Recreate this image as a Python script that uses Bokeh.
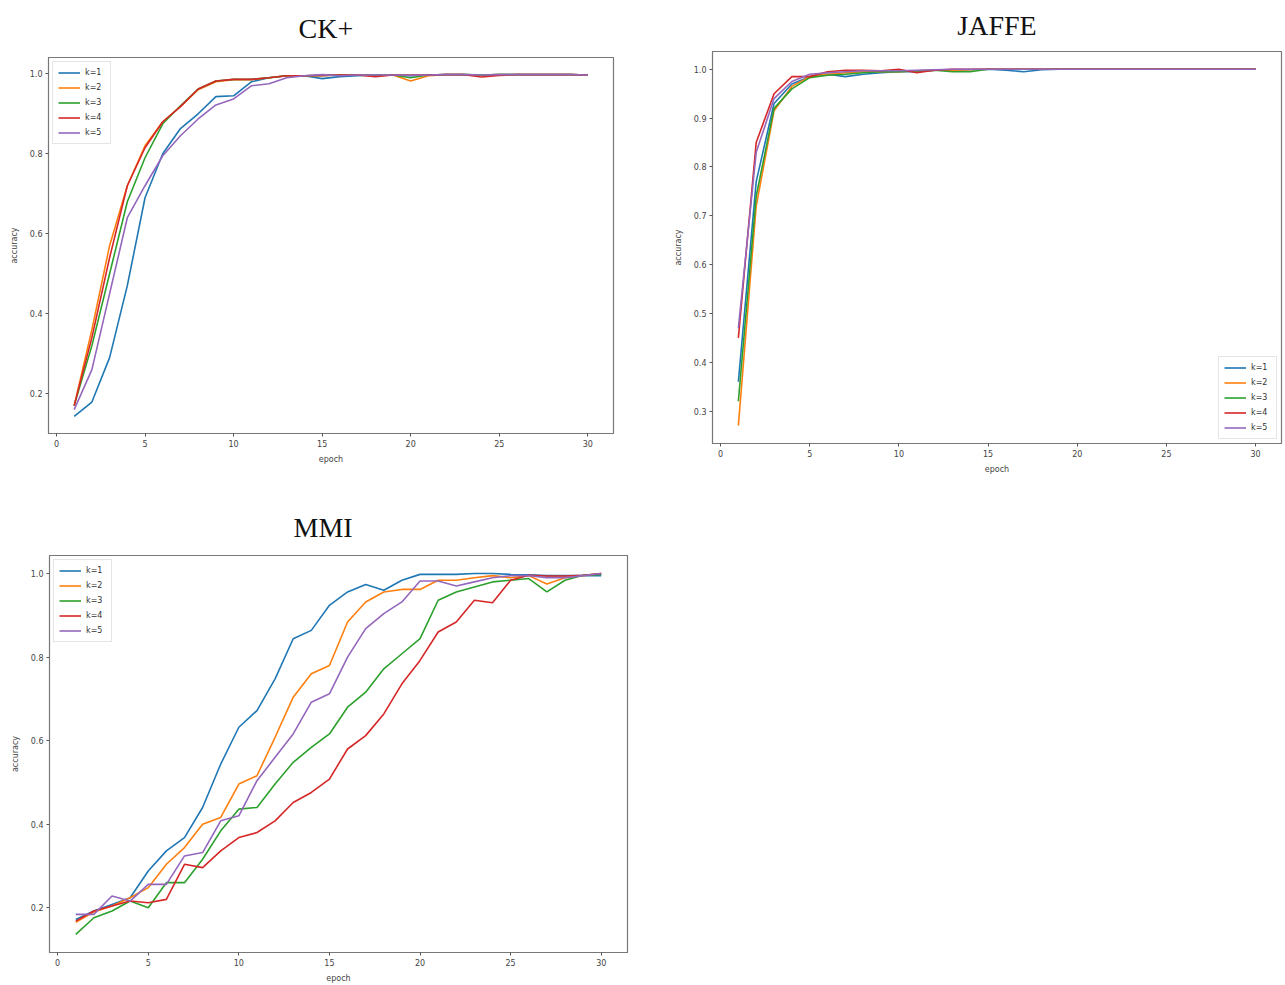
from bokeh.plotting import figure
from bokeh.layouts import column, row
from bokeh.models import FixedTicker, PrintfTickFormatter, Range1d
from bokeh.embed import file_html
from bokeh.resources import INLINE

epochs = list(range(1, 31))
series_labels = ["k=1", "k=2", "k=3", "k=4", "k=5"]
colors = ["#1f77b4", "#ff7f0e", "#2ca02c", "#d62728", "#9467bd"]

# CK+
ck_k1 = [0.143, 0.179, 0.29, 0.47, 0.69, 0.80, 0.863, 0.90, 0.943, 0.945, 0.98, 0.99, 0.995, 0.995, 0.988,
         0.993, 0.995, 0.997, 0.997, 0.995, 0.997, 0.998, 0.998, 0.997, 0.998, 0.998, 0.998, 0.998, 0.998, 0.997]
ck_k2 = [0.17, 0.36, 0.57, 0.72, 0.82, 0.88, 0.918, 0.96, 0.98, 0.985, 0.985, 0.99, 0.995, 0.995, 0.995,
         0.997, 0.997, 0.995, 0.997, 0.982, 0.995, 0.998, 0.998, 0.997, 0.998, 0.998, 0.998, 0.998, 0.998, 0.997]
ck_k3 = [0.17, 0.32, 0.50, 0.68, 0.79, 0.875, 0.92, 0.962, 0.982, 0.986, 0.986, 0.99, 0.995, 0.995, 0.996,
         0.997, 0.997, 0.996, 0.997, 0.99, 0.997, 0.998, 0.998, 0.997, 0.998, 0.998, 0.998, 0.998, 0.998, 0.997]
ck_k4 = [0.17, 0.34, 0.54, 0.72, 0.815, 0.88, 0.918, 0.962, 0.982, 0.986, 0.986, 0.99, 0.995, 0.995, 0.996,
         0.997, 0.997, 0.993, 0.997, 0.997, 0.997, 0.998, 0.998, 0.992, 0.996, 0.998, 0.998, 0.998, 0.998, 0.997]
ck_k5 = [0.16, 0.26, 0.45, 0.64, 0.72, 0.795, 0.845, 0.887, 0.922, 0.937, 0.97, 0.975, 0.99, 0.995, 0.998,
         0.995, 0.997, 0.997, 0.997, 0.996, 0.997, 0.998, 0.998, 0.997, 0.998, 0.998, 0.998, 0.998, 0.998, 0.997]

# JAFFE
ja_k1 = [0.36, 0.77, 0.93, 0.97, 0.985, 0.99, 0.985, 0.99, 0.993, 0.995, 0.995, 0.998, 0.998, 0.999, 1.0,
         0.998, 0.995, 0.999, 1.0, 1.0, 1.0, 1.0, 1.0, 1.0, 1.0, 1.0, 1.0, 1.0, 1.0, 1.0]
ja_k2 = [0.27, 0.72, 0.915, 0.965, 0.985, 0.99, 0.993, 0.995, 0.995, 0.995, 0.997, 0.998, 0.998, 0.999, 1.0,
         1.0, 1.0, 1.0, 1.0, 1.0, 1.0, 1.0, 1.0, 1.0, 1.0, 1.0, 1.0, 1.0, 1.0, 1.0]
ja_k3 = [0.32, 0.74, 0.92, 0.96, 0.983, 0.988, 0.99, 0.993, 0.995, 0.995, 0.997, 0.998, 0.995, 0.995, 1.0,
         1.0, 1.0, 1.0, 1.0, 1.0, 1.0, 1.0, 1.0, 1.0, 1.0, 1.0, 1.0, 1.0, 1.0, 1.0]
ja_k4 = [0.45, 0.85, 0.95, 0.985, 0.985, 0.995, 0.998, 0.998, 0.997, 1.0, 0.993, 0.998, 1.0, 1.0, 1.0,
         1.0, 1.0, 1.0, 1.0, 1.0, 1.0, 1.0, 1.0, 1.0, 1.0, 1.0, 1.0, 1.0, 1.0, 1.0]
ja_k5 = [0.47, 0.83, 0.94, 0.975, 0.99, 0.993, 0.995, 0.997, 0.997, 0.997, 0.998, 0.999, 1.0, 1.0, 1.0,
         1.0, 1.0, 1.0, 1.0, 1.0, 1.0, 1.0, 1.0, 1.0, 1.0, 1.0, 1.0, 1.0, 1.0, 1.0]

# MMI
mmi_k1 = [0.172, 0.192, 0.208, 0.224, 0.288, 0.336, 0.368, 0.44, 0.544, 0.632, 0.672, 0.748, 0.844, 0.864, 0.924,
          0.956, 0.974, 0.96, 0.984, 0.998, 0.998, 0.998, 1.0, 1.0, 0.998, 0.997, 0.995, 0.995, 0.995, 0.995]
mmi_k2 = [0.165, 0.19, 0.204, 0.224, 0.248, 0.304, 0.344, 0.40, 0.416, 0.496, 0.516, 0.608, 0.704, 0.76, 0.78,
          0.884, 0.932, 0.956, 0.962, 0.962, 0.984, 0.984, 0.99, 0.995, 0.99, 0.995, 0.975, 0.99, 0.995, 1.0]
mmi_k3 = [0.136, 0.176, 0.192, 0.216, 0.20, 0.26, 0.26, 0.316, 0.384, 0.436, 0.44, 0.496, 0.548, 0.584, 0.616,
          0.68, 0.716, 0.772, 0.808, 0.844, 0.936, 0.956, 0.968, 0.98, 0.984, 0.988, 0.956, 0.984, 0.996, 0.998]
mmi_k4 = [0.168, 0.192, 0.204, 0.216, 0.212, 0.22, 0.304, 0.296, 0.336, 0.368, 0.38, 0.408, 0.452, 0.476, 0.508,
          0.58, 0.612, 0.664, 0.736, 0.792, 0.86, 0.884, 0.936, 0.93, 0.984, 0.996, 0.994, 0.994, 0.996, 1.0]
mmi_k5 = [0.184, 0.184, 0.228, 0.216, 0.256, 0.256, 0.324, 0.332, 0.408, 0.42, 0.504, 0.56, 0.616, 0.692, 0.712,
          0.80, 0.868, 0.904, 0.932, 0.982, 0.982, 0.97, 0.98, 0.99, 0.995, 0.995, 0.99, 0.99, 0.995, 1.0]

ck_series = [ck_k1, ck_k2, ck_k3, ck_k4, ck_k5]
ja_series = [ja_k1, ja_k2, ja_k3, ja_k4, ja_k5]
mmi_series = [mmi_k1, mmi_k2, mmi_k3, mmi_k4, mmi_k5]

x_ticks = [0, 5, 10, 15, 20, 25, 30]
ck_y_ticks = [0.2, 0.4, 0.6, 0.8, 1.0]
ja_y_ticks = [0.3, 0.4, 0.5, 0.6, 0.7, 0.8, 0.9, 1.0]
mmi_y_ticks = [0.2, 0.4, 0.6, 0.8, 1.0]


def padded(lo, hi, m=0.05):
    d = hi - lo
    return lo - m * d, hi + m * d


def make_panel(title, series, yticks, legend_loc, fw, fh, bl, br, bt, bb, t_standoff, t_align, t_offset):
    ymin = min(min(s) for s in series)
    ymax = max(max(s) for s in series)
    y0, y1 = padded(ymin, ymax)
    x0, x1 = padded(min(epochs), max(epochs))
    p = figure(frame_width=fw, frame_height=fh, min_border_left=bl, min_border_right=br,
               min_border_top=bt, min_border_bottom=bb, output_backend="svg",
               toolbar_location=None, x_range=Range1d(x0, x1), y_range=Range1d(y0, y1))
    for s, lab, c in zip(series, series_labels, colors):
        p.line(epochs, s, line_color=c, line_width=1.6, legend_label=lab)
    p.title.text = title
    p.title.text_font = "Liberation Serif"
    p.title.text_font_size = "28px"
    p.title.text_font_style = "normal"
    p.title.align = t_align
    p.title.vertical_align = "top"
    p.title.text_color = "#111111"
    p.title.standoff = t_standoff
    p.title.offset = t_offset
    p.xgrid.visible = False
    p.ygrid.visible = False
    p.outline_line_color = "#777777"
    p.outline_line_width = 1.2
    p.xaxis.ticker = FixedTicker(ticks=x_ticks)
    p.yaxis.ticker = FixedTicker(ticks=yticks)
    p.yaxis.formatter = PrintfTickFormatter(format="%.1f")
    p.xaxis.axis_label = "epoch"
    p.yaxis.axis_label = "accuracy"
    for ax in (p.xaxis, p.yaxis):
        ax.axis_line_color = "#777777"
        ax.major_tick_line_color = "#555555"
        ax.major_tick_in = 0
        ax.major_tick_out = 3
        ax.minor_tick_line_color = None
        ax.major_label_text_font = "DejaVu Sans"
        ax.major_label_text_font_size = "8px"
        ax.major_label_text_color = "#444444"
        ax.major_label_standoff = 3
        ax.axis_label_text_font = "DejaVu Sans"
        ax.axis_label_text_font_size = "8px"
        ax.axis_label_text_font_style = "normal"
        ax.axis_label_text_color = "#444444"
    p.xaxis.axis_label_standoff = 5
    p.yaxis.axis_label_standoff = 8
    p.background_fill_color = "white"
    p.border_fill_color = "white"
    lg = p.legend[0]
    lg.location = legend_loc
    lg.label_text_font = "DejaVu Sans"
    lg.label_text_font_size = "8px"
    lg.label_text_color = "#333333"
    lg.label_height = 11
    lg.glyph_height = 11
    lg.glyph_width = 22
    lg.spacing = 4
    lg.padding = 5
    lg.margin = 4
    lg.border_line_color = "#cccccc"
    lg.background_fill_alpha = 0.85
    return p


p1 = make_panel("CK+", ck_series, ck_y_ticks, "top_left", 565, 376, 48, 27, 57, 67, 23, "left", 250)
p2 = make_panel("JAFFE", ja_series, ja_y_ticks, "bottom_right", 569, 392, 72, 2, 51, 57, 17, "center", 0)
p3 = make_panel("MMI", mmi_series, mmi_y_ticks, "top_left", 578, 397, 49, 13, 55, 31, 21, "left", 244)

layout = column(row(column(p1), column(p2)), row(column(p3)))

open("out.html", "w").write(file_html(layout, INLINE))
